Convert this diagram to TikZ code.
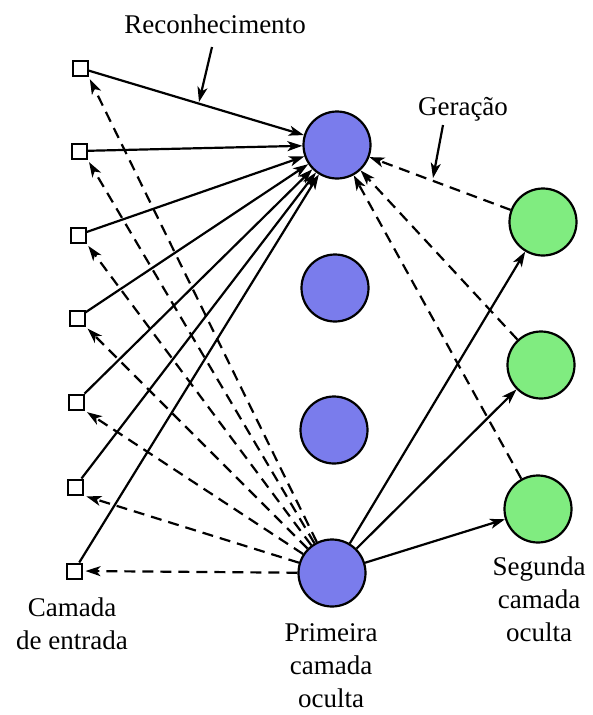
\documentclass[tikz,border=0pt]{standalone}
\usepackage{fontspec}
\setmainfont{Liberation Serif}
\newfontfamily\tmsfont{Liberation Serif}
\usetikzlibrary{arrows.meta}
\definecolor{nodeblue}{RGB}{122,124,236}
\definecolor{nodegreen}{RGB}{128,236,128}
\begin{document}
\begin{tikzpicture}[x=1pt,y=-1pt,
  inp/.style={draw,line width=2pt,fill=white,minimum size=15pt,inner sep=0pt},
  hid/.style={circle,draw,line width=2.2pt,fill=nodeblue,minimum size=67pt,inner sep=0pt},
  hidtwo/.style={circle,draw,line width=2.2pt,fill=nodegreen,minimum size=67pt,inner sep=0pt},
  rec/.style={line width=2.2pt,-{Stealth[length=15pt,width=10pt,inset=4pt]}},
  gen/.style={rec,dash pattern=on 11pt off 7pt},
  lbl/.style={font=\tmsfont\fontsize{27}{33}\selectfont,align=center,inner sep=0pt}]
\useasboundingbox (0,0) rectangle (592,715);
% input layer
\node[inp] (i1) at (80,68) {};
\node[inp] (i2) at (79,151) {};
\node[inp] (i3) at (78,235) {};
\node[inp] (i4) at (77,318) {};
\node[inp] (i5) at (76,402) {};
\node[inp] (i6) at (75,487) {};
\node[inp] (i7) at (74,571) {};
% first hidden layer
\node[hid] (h1) at (337,145) {};
\node[hid] (h2) at (335,288) {};
\node[hid] (h3) at (334,430) {};
\node[hid] (h4) at (332,573) {};
% second hidden layer
\node[hidtwo] (g1) at (543,222) {};
\node[hidtwo] (g2) at (541,365) {};
\node[hidtwo] (g3) at (538,509) {};
% recognition connections
\foreach \i in {1,...,7} \draw[rec] (i\i) -- (h1);
\foreach \i in {1,2,3} \draw[rec] (h4) -- (g\i);
% generation connections
\foreach \i in {1,...,6} \draw[gen,shorten >=3pt] (h4) -- (i\i.south east);
\draw[gen,shorten >=3pt] (h4) -- (i7.east);
\foreach \i in {1,2,3} \draw[gen] (g\i) -- (h1);
% labels
\node[lbl,anchor=base] (trec) at (215,33) {Reconhecimento};
\coordinate (rs) at (212,47);
\coordinate (re) at (199,102);
\draw[rec] (rs) -- (re);
\node[lbl,anchor=base] (tgen) at (463,115) {Geração};
\coordinate (gs) at (443,125);
\coordinate (ge) at (433,178);
\draw[rec] (gs) -- (ge);
\node[lbl,anchor=north] (tin) at (72,598) {Camada\\de entrada};
\node[lbl,anchor=north] (th1) at (331,623) {Primeira\\camada\\oculta};
\node[lbl,anchor=north] (th2) at (539,557) {Segunda\\camada\\oculta};
\end{tikzpicture}
\end{document}
